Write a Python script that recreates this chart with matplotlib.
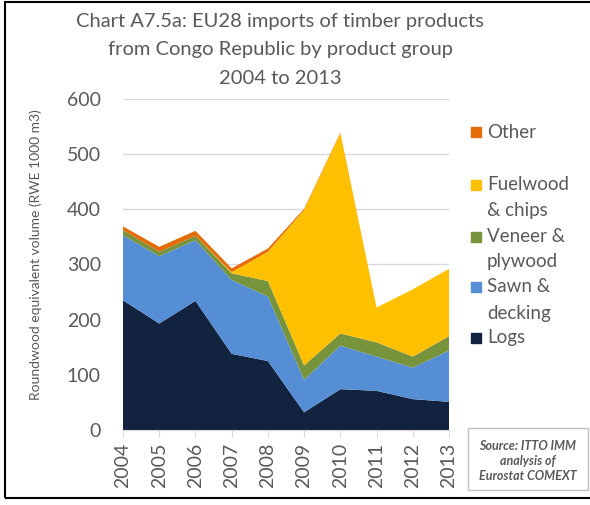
import matplotlib
matplotlib.use("Agg")
import matplotlib.pyplot as plt
from matplotlib.patches import Rectangle

plt.rcParams['font.family'] = ['Lato', 'DejaVu Sans']

# Data (1000 m3 RWE)
years = [2004, 2005, 2006, 2007, 2008, 2009, 2010, 2011, 2012, 2013]
logs = [235, 193, 234, 138, 125, 32, 74, 71, 56, 51]
sawn = [118, 122, 110, 134, 117, 59, 79, 62, 57, 93]
veneer = [9, 8, 8, 12, 28, 26, 22, 26, 20, 26]
fuelwood = [0, 0, 0, 2, 53, 282, 363, 63, 122, 122]
other = [7, 9, 9, 7, 6, 2, 1, 0, 0, 0]

series_labels = ['Logs', 'Sawn &\ndecking', 'Veneer &\nplywood', 'Fuelwood\n& chips', 'Other']
colors = ['#12233F', '#558ED5', '#77933C', '#FFC000', '#E36C09']

grey = '#595959'
W, H = 590, 505

fig = plt.figure(figsize=(5.9, 5.05), dpi=100)
ax = fig.add_axes([0.2085, 0.1485, 0.5525, 0.6555])

ax.stackplot(years, logs, sawn, veneer, fuelwood, other, colors=colors, linewidth=0)

ax.set_xlim(2004, 2013)
ax.set_ylim(0, 600)
ax.set_yticks(range(0, 601, 100))
ax.set_xticks(years)
ax.set_xticklabels([str(y) for y in years], rotation=90, fontsize=14, color=grey)
ax.tick_params(axis='y', length=0, labelsize=14, labelcolor=grey, pad=16)
ax.tick_params(axis='x', length=5, color='#D9D9D9', pad=4)
ax.grid(axis='y', color='#D9D9D9', linewidth=1)
ax.set_axisbelow(True)
for side in ['top', 'right', 'left']:
    ax.spines[side].set_visible(False)
ax.spines['bottom'].set_color('#D9D9D9')

fig.text(0.06, 0.495, 'Roundwood equivalent volume (RWE 1000 m3)', rotation=90,
         ha='center', va='center', fontsize=10, color=grey)

title_lines = ['Chart A7.5a: EU28 imports of timber products',
               'from Congo Republic by product group', '2004 to 2013']
for ty, line in zip([22, 50, 78], title_lines):
    fig.text(280 / W, 1 - ty / H, line, ha='center', va='center', fontsize=14.5, color=grey)

# legend, drawn top to bottom like the original
leg_rows = [[132], [185, 211], [237, 262], [287, 313], [338]]
order = [4, 3, 2, 1, 0]
for rows, i in zip(leg_rows, order):
    parts = series_labels[i].split('\n')
    fig.patches.append(Rectangle((471 / W, 1 - (rows[0] + 5) / H), 10 / W, 10 / H,
                                 transform=fig.transFigure, color=colors[i]))
    for yy, part in zip(rows, parts):
        fig.text(487 / W, 1 - yy / H, part, ha='left', va='center',
                 fontsize=13.5, color=grey)

# source box
fig.patches.append(Rectangle((468 / W, 1 - 490 / H), 120 / W, 62 / H,
                             transform=fig.transFigure, fc='white', ec='#BFBFBF', lw=1))
for sy, line in zip([446, 461, 476], ['Source: ITTO IMM', 'analysis of', 'Eurostat COMEXT']):
    fig.text(528 / W, 1 - sy / H, line, ha='center', va='center', fontsize=9,
             style='italic', fontweight='bold', color=grey)

# outer frame of the image
fig.patches.append(Rectangle((5 / W, 7 / H), 1.2, 1 - 9 / H, transform=fig.transFigure,
                             fill=False, ec='black', lw=1.5))

fig.savefig('out.png', dpi=100)
